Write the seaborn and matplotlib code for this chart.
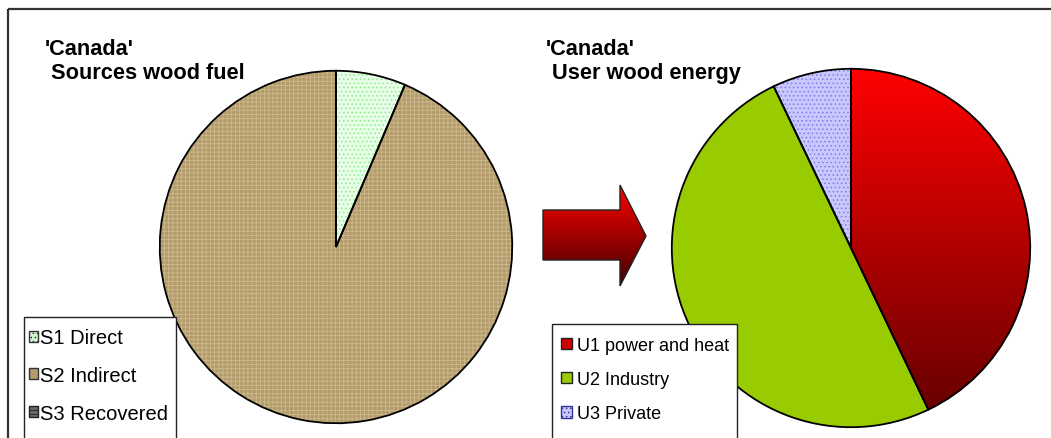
import numpy as np
import matplotlib
matplotlib.use("Agg")
import matplotlib.pyplot as plt
import seaborn as sns
from matplotlib.patches import Polygon, Patch, Wedge, Rectangle

# ---------------- data ----------------
left_title = "'Canada'\n Sources wood fuel"
right_title = "'Canada'\n User wood energy"
source_labels = ["S1 Direct", "S2 Indirect", "S3 Recovered"]
source_values = [6.4, 93.6, 0.0]
user_labels = ["U1 power and heat", "U2 Industry", "U3 Private"]
user_values = [42.9, 50.0, 7.1]

sns.set_theme(style="white")
plt.rcParams['font.family'] = ['Liberation Sans', 'DejaVu Sans']
plt.rcParams['text.color'] = 'black'
plt.rcParams['hatch.linewidth'] = 0.6

W, H = 1051, 439
fig = plt.figure(figsize=(W / 100, H / 100), dpi=100)
fig.patch.set_facecolor("white")


def px_axes(cx, cy, r):
    return fig.add_axes([(cx - r) / W, (H - (cy + r)) / H, 2 * r / W, 2 * r / H])


def twin_wedge(w, **kw):
    return Wedge(w.center, w.r, w.theta1, w.theta2, **kw)


# ---------- left pie ----------
axL = px_axes(336, 248, 178)
src_fill = ["#E6FFE6", "#B39B6C", "#555555"]
src_hatch = ["....", "++++", "----"]
src_hcol = ["#8FE88F", "#CDB98C", "#222222"]
wedgesL, _ = axL.pie(source_values, colors=src_fill, startangle=90, counterclock=False,
                     wedgeprops=dict(edgecolor="none", linewidth=0))
for w, h, hc in zip(wedgesL, src_hatch, src_hcol):
    if abs(w.theta2 - w.theta1) > 0.01:
        axL.add_patch(twin_wedge(w, fill=False, hatch=h, edgecolor=hc, linewidth=0,
                                 zorder=w.get_zorder() + 0.1))
for w in wedgesL:
    if abs(w.theta2 - w.theta1) > 0.01:
        axL.add_patch(twin_wedge(w, fill=False, edgecolor="black", linewidth=1.3,
                                 zorder=w.get_zorder() + 0.2))
axL.set_xlim(-1.01, 1.01)
axL.set_ylim(-1.01, 1.01)
axL.axis("off")

# ---------- right pie ----------
axR = px_axes(851, 249, 181)
usr_fill = ["#FF0000", "#99CC00", "#C8C8FF"]
wedgesR, _ = axR.pie(user_values, colors=usr_fill, startangle=90, counterclock=False,
                     wedgeprops=dict(edgecolor="none", linewidth=0))
grad = np.zeros((256, 1, 3))
t = np.linspace(0, 1, 256)
grad[:, 0, 0] = 1.0 - 0.62 * t
im = axR.imshow(grad, extent=(-1, 1, -1, 1), aspect="auto",
                zorder=wedgesR[0].get_zorder() + 0.05, origin="upper")
im.set_clip_path(wedgesR[0])
w3 = wedgesR[2]
axR.add_patch(twin_wedge(w3, fill=False, hatch="....", edgecolor="#7D7DE6", linewidth=0,
                         zorder=w3.get_zorder() + 0.1))
for w in wedgesR:
    axR.add_patch(twin_wedge(w, fill=False, edgecolor="black", linewidth=1.3,
                             zorder=w.get_zorder() + 0.2))
axR.set_xlim(-1.01, 1.01)
axR.set_ylim(-1.01, 1.01)
axR.axis("off")

# ---------- overlay: frame, arrow ----------
ov = fig.add_axes([0, 0, 1, 1], zorder=-1)
ov.plot([8, 8], [H + 5, 10], color="#333333", lw=1.6, solid_capstyle="butt")
ov.plot([8, W + 5], [10, 10], color="#333333", lw=1.6, solid_capstyle="butt")
arrow_xy = [(543, 211), (620, 211), (620, 186), (646, 237), (620, 287), (620, 261), (543, 261)]
arrow = Polygon(arrow_xy, closed=True, facecolor="none", edgecolor="#222222", lw=1.0, zorder=3)
ov.add_patch(arrow)
ag = np.zeros((256, 1, 3))
ag[:, 0, 0] = np.linspace(1.0, 0.25, 256)
aim = ov.imshow(ag, extent=(543, 646, 287, 186), aspect="auto", zorder=2, origin="upper")
aim.set_clip_path(arrow)
ov.set_xlim(0, W)
ov.set_ylim(H, 0)
ov.axis("off")

# ---------- titles ----------
fig.text(45 / W, 1 - 39 / H, left_title, fontsize=15.7, fontweight="bold", va="top", ha="left",
         linespacing=1.2, color="black")
fig.text(546 / W, 1 - 39 / H, right_title, fontsize=15.7, fontweight="bold", va="top", ha="left",
         linespacing=1.2, color="black")

# ---------- legend boxes ----------
def px_rect(x0, y0, x1, y1):
    r = Rectangle((x0 / W, 1 - y1 / H), (x1 - x0) / W, (y1 - y0) / H, transform=fig.transFigure,
                  facecolor="white", edgecolor="#222222", linewidth=1.0, zorder=4)
    fig.add_artist(r)

px_rect(24, 318, 176, 441)
px_rect(552, 325, 737, 441)

src_handles = [Patch(facecolor="#D0F5D0", edgecolor="#333333", hatch="...."),
               Patch(facecolor="#B39B6C", edgecolor="#333333"),
               Patch(facecolor="#666666", edgecolor="#222222", hatch="----")]
usr_handles = [Patch(facecolor="#D00000", edgecolor="#222222"),
               Patch(facecolor="#99CC00", edgecolor="#222222"),
               Patch(facecolor="#C8C8FF", edgecolor="#333399", hatch="....")]

legL = fig.legend(src_handles, source_labels, bbox_to_anchor=(29 / W, 1 - 376.5 / H),
                  loc="center left", fontsize=14.5, frameon=False,
                  handlelength=0.45, handleheight=0.45, handletextpad=0.12, labelspacing=0.93,
                  borderpad=0, borderaxespad=0, labelcolor="black")
legR = fig.legend(usr_handles, user_labels, bbox_to_anchor=(561 / W, 1 - 380.5 / H),
                  loc="center left", fontsize=13, frameon=False,
                  handlelength=0.6, handleheight=0.6, handletextpad=0.28, labelspacing=0.95,
                  borderpad=0, borderaxespad=0, labelcolor="black")
legL.set_zorder(6)
legR.set_zorder(6)

fig.savefig("out.png", dpi=100, facecolor="white")
